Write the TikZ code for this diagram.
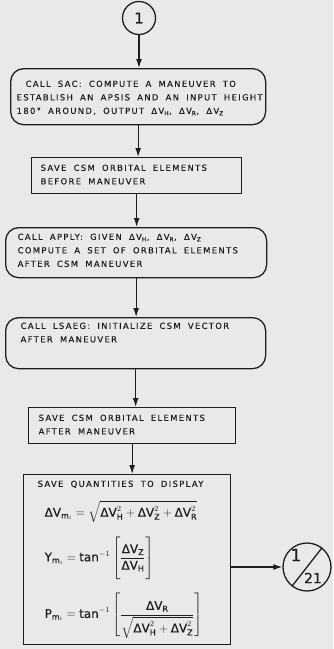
\documentclass[tikz,border=0pt]{standalone}
\usepackage{amsmath}
\usepackage{fontspec}
\usetikzlibrary{arrows.meta}
\newfontfamily\hand[LetterSpace=16,WordSpace=1.8,FakeBold=0.4]{DejaVu Sans}
\newfontfamily\handm[FakeBold=0.4]{DejaVu Sans}
\newcommand\mtx[1]{\text{\handm #1}}
\newcommand\dv[1]{ΔV\textsubscript{#1}}
\newcommand\mdv[1]{\mtx{ΔV}_{\mtx{#1}}}
\newcommand\mdvq[1]{\mtx{ΔV}^{2}_{\mtx{#1}}}
\newcommand\msub{_{\mtx{m}_i}}
\definecolor{bgc}{RGB}{233,233,231}
\definecolor{ink}{RGB}{30,30,30}
\begin{document}
\begin{tikzpicture}[x=1pt,y=-1pt, line width=1.3pt, draw=ink, text=ink,
 txt/.style={font=\hand\fontsize{8.4}{13.5}\selectfont, align=left, inner sep=0pt, anchor=north west},
 eq/.style={font=\fontsize{12}{14}\selectfont, inner sep=0pt, anchor=west},
 rbox/.style={draw, rounded corners=13pt, anchor=north west, inner sep=0pt},
 sbox/.style={draw, anchor=north west, inner sep=0pt},
 arr/.style={-{Latex[length=9pt,width=6pt]}}]
\fill[bgc] (0,0) rectangle (333,649);
\useasboundingbox (0,0) rectangle (333,649);

\node[draw,circle,minimum size=33pt,inner sep=0pt] (c1) at (139,18) {\handm\fontsize{15}{15}\selectfont 1};

\node[rbox, minimum width=255pt, minimum height=56pt] (b1) at (10,68) {};
\node[txt] (t1) at (16,80) {\hspace*{9pt}CALL SAC: COMPUTE A MANEUVER TO\\ESTABLISH AN APSIS AND AN INPUT HEIGHT\\180° AROUND, OUTPUT \dv{H}, \dv{R}, \dv{Z}};

\node[sbox, minimum width=210pt, minimum height=36pt] (b2) at (31,157) {};
\node[txt] (t2) at (40,164) {SAVE CSM ORBITAL ELEMENTS\\BEFORE MANEUVER};

\node[rbox, minimum width=261pt, minimum height=50pt] (b3) at (5,227) {};
\node[txt] (t3) at (17,233) {CALL APPLY: GIVEN \dv{H}, \dv{R}, \dv{Z}\\COMPUTE A SET OF ORBITAL ELEMENTS\\AFTER CSM MANEUVER};

\node[rbox, minimum width=260pt, minimum height=51pt] (b4) at (5,317) {};
\node[txt] (t4) at (20,322) {CALL LSAEG: INITIALIZE CSM VECTOR\\AFTER MANEUVER};

\node[sbox, minimum width=207pt, minimum height=36pt] (b5) at (28,407) {};
\node[txt] (t5) at (38,414) {SAVE CSM ORBITAL ELEMENTS\\AFTER MANEUVER};

\node[sbox, minimum width=207pt, minimum height=170pt] (b6) at (23,474) {};
\node[txt] (t6) at (37,480) {SAVE QUANTITIES TO DISPLAY};
\node[eq] (e1) at (44,512) {$\mtx{ΔV}\msub = \sqrt{\mdvq{H} + \mdvq{Z} + \mdvq{R}}$};
\node[eq] (e2) at (44,559) {$\mtx{Y}\msub = \mtx{tan}^{-1}\left[\rule[-20pt]{0pt}{44pt}\dfrac{\mdv{Z}}{\mdv{H}}\right]$};
\node[eq] (e3) at (44,616) {$\mtx{P}\msub = \mtx{tan}^{-1}\left[\rule[-18pt]{0pt}{39pt}\dfrac{\mdv{R}}{\sqrt{\mdvq{H}+\mdvq{Z}}}\right]$};

\node[draw,circle,minimum size=48pt,inner sep=0pt] (c2) at (307,567) {};
\draw (c2.232) -- (c2.52);
\node[font=\handm\fontsize{17}{17}\selectfont, inner sep=0pt] (n1) at (296,555) {1};
\node[font=\handm\fontsize{14}{14}\selectfont, inner sep=0pt] (n21) at (313,578) {21};

\draw[arr] (c1.south) -- (c1.south |- b1.north);
\draw[arr] (b1.south) -- (b1.south |- b2.north);
\draw[arr] (b2.south) -- (b2.south |- b3.north);
\draw[arr] (b3.south) -- (b3.south |- b4.north);
\draw[arr] (b4.south) -- (b4.south |- b5.north);
\draw[arr] (b5.south) -- (b5.south |- b6.north);
\draw[arr] (b6.east |- c2) -- (c2.west);
\end{tikzpicture}
\end{document}
